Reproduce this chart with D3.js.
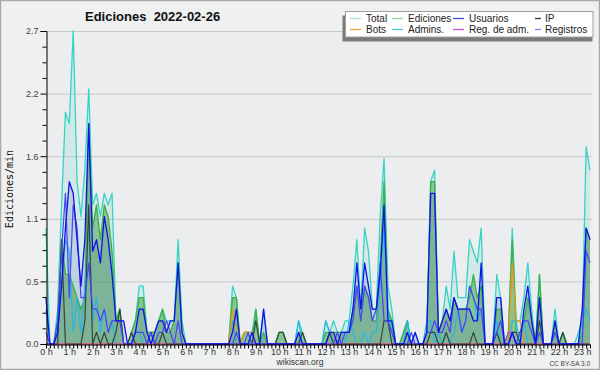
<!DOCTYPE html>
<html><head><meta charset="utf-8">
<script src="https://cdn.jsdelivr.net/npm/d3@7/dist/d3.min.js"></script>
<style>html,body{margin:0;padding:0;background:#fff}svg{display:block}</style>
</head><body>
<svg id="chart" width="600" height="370"></svg>
<script>
// 10-minute bins, 0h00 .. 23h20 (one row per hour)
const total = [
1.0,0,0,0.3,1.2,2.0,
1.9,2.7,1.4,1.1,1.5,2.2,
1.2,1.3,1.1,1.3,1.2,1.3,
0.2,0.3,0,0,0.1,0.2,
0.5,0.5,0.1,0.1,0.1,0.2,
0.3,0.2,0.2,0.2,0.9,0.2,
0,0,0,0,0,0,
0,0,0,0,0,0,
0.5,0.4,0,0.1,0.1,0.1,
0.3,0,0.3,0,0,0,
0.1,0.1,0,0,0,0.2,
0.1,0,0,0,0,0,
0.2,0.1,0.2,0.1,0.1,0.2,
0.2,0.5,0.9,0.3,1.0,0.8,
0.3,0.3,1.1,1.6,0.5,0.3,
0,0,0.1,0.2,0,0.1,
0,0,0.1,1.4,1.5,0.1,
0.2,0.5,0.3,0.8,0.4,0.4,
0.4,0.9,0.8,0.7,1.0,0,
0,0,0.6,0.4,0,0.1,
1.0,0.2,0.2,0.4,0.7,0.3,
0,0.6,0,0,0,0.3,
0,0.1,0,0,0,0.1,
0.2,1.7,1.5];
const ediciones = [
0,0,0,0.2,0.9,0.6,
0.6,0.5,0.4,0.3,0.4,1.9,
1.0,1.2,0.9,1.2,1.1,0.8,
0.2,0.3,0,0,0.1,0.2,
0.4,0.4,0.1,0.1,0.1,0.2,
0.3,0.1,0.1,0.2,0.7,0.1,
0,0,0,0,0,0,
0,0,0,0,0,0,
0.4,0.4,0,0.1,0.1,0,
0.3,0,0.1,0,0,0,
0.1,0.1,0,0,0,0.1,
0.1,0,0,0,0,0,
0.1,0.1,0.1,0.1,0.1,0.1,
0.1,0.3,0.5,0.2,0.5,0.4,
0.2,0.2,0.7,1.4,0.3,0.2,
0,0,0.1,0.2,0,0,
0,0,0.1,1.4,1.4,0.1,
0.2,0.3,0.2,0.4,0.3,0.3,
0.3,0.4,0.6,0.4,0.5,0,
0,0,0.3,0.3,0,0.1,
0.9,0.1,0.1,0.2,0.4,0.2,
0,0.6,0,0,0,0.2,
0,0.1,0,0,0,0,
0.1,1.0,0.9];
const usuarios = [
0.4,0,0,0.1,0.5,1.0,
1.4,1.3,0.9,0.5,0.9,1.9,
0.8,0.9,0.7,1.1,0.9,0.6,
0.2,0.2,0.2,0,0,0.1,
0.3,0.3,0.1,0,0.1,0.2,
0.2,0.1,0.2,0.2,0.7,0.1,
0,0,0,0,0,0,
0,0,0,0,0,0,
0.1,0.3,0,0,0,0.1,
0,0,0.3,0,0,0,
0,0,0,0,0,0.1,
0,0,0,0,0,0,
0,0.1,0.1,0,0.1,0.1,
0.1,0.3,0.7,0.3,0.7,0.5,
0.3,0.3,0.6,1.2,0.2,0.2,
0,0,0,0.1,0,0.1,
0,0,0.1,1.3,1.3,0.1,
0.2,0.3,0.2,0.4,0.3,0.3,
0.3,0.3,0.2,0.2,0.7,0,
0,0,0.4,0.4,0,0,
0.1,0,0,0.3,0.5,0.2,
0,0.4,0,0,0,0.2,
0,0,0,0,0,0,
0.3,1.0,0.9];
const ip = [
0,0,0,0,0.9,0,
0,0,0,0,0.2,1.2,
0,0.1,0,0.1,0,0,
0.1,0.3,0,0,0.1,0,
0,0,0,0.1,0,0,
0.1,0,0,0,0,0,
0,0,0,0,0,0,
0,0,0,0,0,0,
0,0,0,0,0,0,
0.2,0,0,0,0,0,
0.1,0.1,0,0,0,0,
0.1,0,0,0,0,0,
0,0.1,0,0,0,0,
0,0,0,0,0,0,
0,0,0,0.2,0.2,0,
0,0,0,0,0,0,
0,0,0,0.1,0.1,0,
0,0.1,0,0,0,0,
0,0,0.1,0,0,0,
0,0,0.1,0,0,0,
0.1,0.1,0,0,0,0,
0,0.2,0,0,0,0,
0,0.1,0,0,0,0,
0,0,0];
const bots = [
0,0,0,0,0,0, 0,0,0,0,0,0, 0,0,0,0,0,0, 0,0,0,0,0,0,
0,0,0,0,0,0, 0,0,0,0,0,0, 0,0,0,0,0,0, 0,0,0,0,0,0,
0.3,0.1,0,0.1,0.1,0.1,
0,0,0,0,0,0, 0,0,0,0,0,0, 0,0,0,0,0,0,
0,0,0,0,0,0, 0,0,0,0,0,0, 0,0,0,0,0,0, 0,0,0,0,0,0,
0,0,0,0,0,0, 0,0,0,0,0,0, 0,0,0,0,0,0, 0,0,0,0,0,0,
0.7,0.2,0.2,0,0,0,
0,0,0,0,0,0, 0,0,0,0,0,0,
0,0,0];
const admins = [
0.3,0,0,0.1,0.5,0.9,
0.8,0.1,0.4,0.1,0.5,1.0,
0.2,0.4,0.1,0.3,0.1,0.2,
0,0,0,0,0,0.1,
0.1,0,0,0,0,0,
0,0,0,0,0,0,
0,0,0,0,0,0,
0,0,0,0,0,0,
0.2,0,0,0,0,0.1,
0,0,0,0,0,0,
0,0,0,0,0,0.2,
0,0,0,0,0,0,
0.2,0.1,0,0,0,0,
0.2,0.1,0,0,0.1,0,
0.1,0.1,0.5,1.0,0.3,0.1,
0,0,0,0.2,0,0,
0,0,0.2,0.2,0,0.1,
0,0.1,0,0.1,0.3,0.1,
0.2,0.5,0.4,0.2,0.3,0,
0,0,0.2,0,0,0,
0.2,0.2,0,0.2,0,0,
0,0,0,0,0,0,
0,0,0,0,0,0,
0.2,0.3,0.2];
const regAdm = [
0,0,0,0,0,0, 0,0,0,0,0,0, 0,0,0,0,0,0, 0,0,0,0,0,0,
0,0,0,0,0,0, 0,0,0,0,0,0, 0,0,0,0,0,0, 0,0,0,0,0,0,
0,0,0,0,0,0, 0,0,0,0,0,0, 0,0,0,0,0,0, 0,0,0,0,0,0,
0,0,0,0,0,0, 0,0,0,0,0,0, 0,0,0,0,0,0, 0,0,0,0,0,0,
0,0,0,0,0,0, 0,0,0,0,0,0, 0,0,0,0,0,0,
0,0,0,0,0,0.1,
0.1,0,0,0,0,0,
0,0,0,0,0,0, 0,0,0,0,0,0,
0,0,0];
const registros = [
0.1,0,0,0.2,0.8,1.3,
0.4,1.2,1.0,0.4,0.4,0.7,
0.3,0.3,0.2,0.3,0.1,0.2,
0.2,0.2,0,0,0,0.1,
0.1,0.1,0,0.1,0,0.1,
0.1,0.2,0.1,0,0.2,0,
0,0,0,0,0,0,
0,0,0,0,0,0,
0,0.1,0,0,0.1,0,
0,0,0,0,0,0,
0,0,0,0,0,0,
0,0,0,0,0,0,
0,0,0,0.1,0,0.1,
0.1,0.2,0.5,0.2,0.5,0.4,
0.2,0.3,0.7,0.2,0.2,0.1,
0,0,0,0,0.1,0,
0,0,0.1,0.1,0.2,0.1,
0.1,0.2,0.1,0.4,0.3,0.1,
0.2,0.5,0.4,0.3,0.3,0,
0,0,0.1,0.2,0,0,
0.1,0,0.1,0.2,0.2,0.1,
0,0.1,0,0,0,0.1,
0,0,0,0,0,0,
0,0.8,0.7];

const hourLabels = ["0 h","1 h","2 h","3 h","4 h","5 h","6 h","7 h","8 h","9 h","10 h","11 h",
  "12 h","13 h","14 h","15 h","16 h","17 h","18 h","19 h","20 h","21 h","22 h","23 h"];
const yTicks = [0, 0.54, 1.08, 1.62, 2.16, 2.7];
const yTickLabels = ["0.0","0.5","1.1","1.6","2.2","2.7"];
const legendNames = ["Total","Ediciones","Usuarios","IP","Bots","Admins.","Reg. de adm.","Registros"];
const legendColors = ["#a6e4da","#8fd48f","#4444d6","#333333","#f0a040","#4cc8e0","#d24ee0","#8686f0"];

const svg = d3.select("#chart");
const F = "'Liberation Sans', Arial, sans-serif";

svg.append("rect").attr("x",0.5).attr("y",0.5).attr("width",599).attr("height",369)
  .attr("fill","#eff0f0").attr("stroke","#a8a8a8").attr("stroke-width",1.5);

const x = d3.scaleLinear().domain([0,140]).range([46,590]);
const y = d3.scaleLinear().domain([0,2.7]).range([344,31]);

svg.append("rect").attr("x",46).attr("y",31).attr("width",546).attr("height",313).attr("fill","#ecedef");

// grid
svg.append("g").selectAll("line").data(yTicks.slice(1)).join("line")
  .attr("x1",46).attr("x2",592).attr("y1",d=>y(d)+0.5).attr("y2",d=>y(d)+0.5)
  .attr("stroke","#c9c9c9").attr("stroke-width",1);

const idx = d3.range(total.length);
function area(arr){ return d3.area().x(i=>x(i)).y0(y(0)).y1(i=>y(arr[i]))(idx); }
function line(arr){ return d3.line().x(i=>x(i)).y(i=>y(arr[i]))(idx); }

const g = svg.append("g");
g.append("path").attr("d",area(total)).attr("fill","#46d6c2").attr("fill-opacity",0.15);
g.append("path").attr("d",area(ediciones)).attr("fill","#3f9f45").attr("fill-opacity",0.5);
g.append("path").attr("d",area(usuarios)).attr("fill","#2a3aa0").attr("fill-opacity",0.12);

const lines = [
  [total,"#36d4c4",1.3],
  [ediciones,"#3cb043",1.3],
  [admins,"#2ab6e2",1.2],
  [bots,"#f29418",1.3],
  [regAdm,"#d030e0",1.2],
  [ip,"#34463a",1.2],
  [registros,"#4646f2",1.2],
  [usuarios,"#1010ee",1.3]
];
lines.forEach(([arr,c,w])=>{
  g.append("path").attr("d",line(arr)).attr("fill","none").attr("stroke",c)
   .attr("stroke-width",w).attr("stroke-linejoin","round");
});

// y axis
const yAxis = d3.axisLeft(y).tickValues(yTicks).tickSize(6).tickPadding(2)
  .tickFormat((d,i)=>yTickLabels[i]);
const ya = svg.append("g").attr("transform","translate(46.5,0)").call(yAxis);
ya.select(".domain").attr("stroke","#000");
ya.selectAll(".tick line").attr("stroke","#000");
ya.selectAll("text").attr("font-family",F).attr("font-size",9).attr("fill","#444");
const minorY = d3.range(0,2.70001,0.135).filter((d,i)=>i%4!==0);
svg.append("g").attr("transform","translate(46.5,0)")
  .call(d3.axisLeft(y).tickValues(minorY).tickSize(4).tickFormat(""))
  .call(s=>s.select(".domain").remove())
  .selectAll("line").attr("stroke","#000");

// x axis
const xAxis = d3.axisBottom(x).tickValues(idx).tickSize(4).tickSizeOuter(0).tickPadding(0)
  .tickFormat(i=> i%6===0 ? hourLabels[i/6] : "");
const xa = svg.append("g").attr("transform","translate(0,344.5)").call(xAxis);
xa.select(".domain").attr("stroke","#000");
xa.selectAll(".tick line").attr("stroke","#000");
xa.selectAll("text").attr("font-family",F).attr("font-size",9).attr("fill","#333").attr("dy","0.75em");

// title
svg.append("text").attr("x",85).attr("y",21).attr("font-family",F).attr("font-weight","bold")
  .attr("font-size",13).attr("fill","#111").attr("xml:space","preserve").text("Ediciones  2022-02-26");

// y label
svg.append("text").attr("transform","translate(13,189) rotate(-90)").attr("text-anchor","middle")
  .attr("font-family","'DejaVu Sans Mono', monospace").attr("font-size",10).attr("fill","#111")
  .text("Ediciones/min");

// footer
svg.append("text").attr("x",300).attr("y",365).attr("text-anchor","middle").attr("font-family",F)
  .attr("font-size",8.5).attr("fill","#333").text("wikiscan.org");
svg.append("text").attr("x",590).attr("y",365.5).attr("text-anchor","end").attr("font-family",F)
  .attr("font-size",6.5).attr("fill","#444").text("CC BY-SA 3.0");

// legend
const lg = svg.append("g");
lg.append("rect").attr("x",342.5).attr("y",15.5).attr("width",250).attr("height",26).attr("fill","#7a7a7a");
lg.append("rect").attr("x",345.5).attr("y",11.5).attr("width",247.5).attr("height",25.5)
  .attr("fill","#fff").attr("stroke","#a0a0a0");
const colLine = [[350,361],[392,403],[453,464],[535,541]];
const colText = [366,408,469,545];
legendNames.forEach((n,i)=>{
  const c = i%4, r = Math.floor(i/4);
  const ly = r===0 ? 18.5 : 29.5;
  lg.append("line").attr("x1",colLine[c][0]).attr("x2",colLine[c][1]).attr("y1",ly).attr("y2",ly)
    .attr("stroke",legendColors[i]).attr("stroke-width",1.3);
  lg.append("text").attr("x",colText[c]).attr("y",r===0?22:32.5).attr("font-family",F)
    .attr("font-size",10).attr("fill","#222").text(n);
});
</script>
</body></html>
